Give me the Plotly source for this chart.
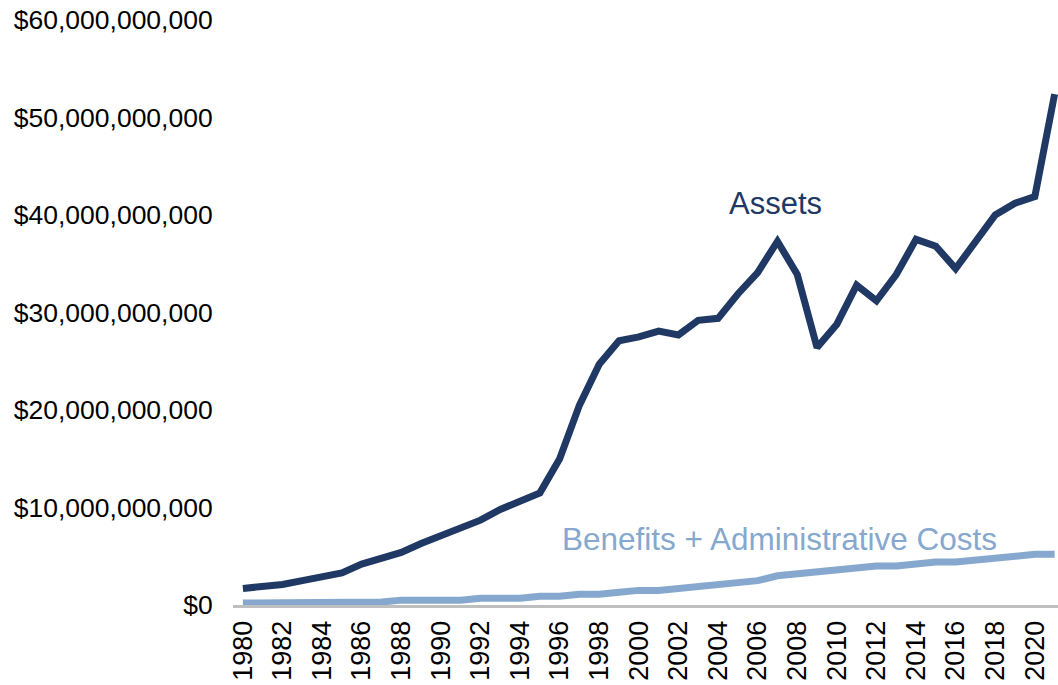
import plotly.graph_objects as go

# Fiscal years shown on the category axis
years = [1980, 1981, 1982, 1983, 1984, 1985, 1986, 1987, 1988, 1989,
         1990, 1991, 1992, 1993, 1994, 1995, 1996, 1997, 1998, 1999,
         2000, 2001, 2002, 2003, 2004, 2005, 2006, 2007, 2008, 2009,
         2010, 2011, 2012, 2013, 2014, 2015, 2016, 2017, 2018, 2019,
         2020, 2021]

# Fund assets, billions of dollars
assets_bn = [1.7, 1.9, 2.1, 2.5, 2.9, 3.3, 4.2, 4.8, 5.4, 6.3,
             7.1, 7.9, 8.7, 9.8, 10.6, 11.5, 15.0, 20.5, 24.7, 27.1,
             27.5, 28.1, 27.7, 29.2, 29.4, 31.9, 34.1, 37.3, 33.9, 26.4,
             28.8, 32.8, 31.2, 33.9, 37.5, 36.8, 34.5, 37.2, 40.0, 41.2,
             41.9, 52.4]

# Benefits paid plus administrative costs, billions of dollars
benefits_bn = [0.2, 0.2, 0.2, 0.2, 0.2, 0.2, 0.2, 0.3, 0.5, 0.5,
               0.5, 0.5, 0.7, 0.7, 0.7, 0.9, 0.9, 1.1, 1.1, 1.3,
               1.5, 1.5, 1.7, 1.9, 2.1, 2.3, 2.5, 3.0, 3.2, 3.4,
               3.6, 3.8, 4.0, 4.0, 4.2, 4.4, 4.4, 4.6, 4.8, 5.0,
               5.2, 5.2]

x_tick_years = years[::2]

ASSETS_COLOR = "#1F3864"
BENEFITS_COLOR = "#86A8CE"
FONT = "Liberation Sans, Arial, sans-serif"

assets = [v * 1e9 for v in assets_bn]
benefits = [v * 1e9 for v in benefits_bn]

fig = go.Figure()
fig.add_trace(go.Scatter(x=years, y=benefits, mode="lines",
                         line=dict(color=BENEFITS_COLOR, width=7),
                         name="Benefits + Administrative Costs"))
fig.add_trace(go.Scatter(x=years, y=assets, mode="lines",
                         line=dict(color=ASSETS_COLOR, width=7),
                         name="Assets"))

fig.add_annotation(x=2006.9, y=41.2e9, text="Assets", showarrow=False,
                   font=dict(family=FONT, size=31, color=ASSETS_COLOR))
fig.add_annotation(x=2007.1, y=6.8e9, text="Benefits + Administrative Costs",
                   showarrow=False,
                   font=dict(family=FONT, size=31.5, color=BENEFITS_COLOR))

fig.update_layout(
    width=1058, height=685,
    margin=dict(l=233, r=0, t=20, b=80),
    paper_bgcolor="white", plot_bgcolor="white",
    showlegend=False,
    font=dict(family=FONT, size=26, color="#000000"),
    xaxis=dict(range=[1979.5, 2021.17], tickmode="array",
               tickvals=x_tick_years, ticktext=[str(y) for y in x_tick_years],
               tickangle=-90, showgrid=False, zeroline=False,
               showline=True, linecolor="#BFBFBF", linewidth=3,
               layer="below traces", ticks="outside", ticklen=2,
               tickcolor="rgba(0,0,0,0)",
               tickfont=dict(family=FONT, size=27, color="#000000")),
    yaxis=dict(range=[0, 60e9], tickmode="array",
               tickvals=[0, 10e9, 20e9, 30e9, 40e9, 50e9, 60e9],
               tickformat="$,.0f", showgrid=False, zeroline=False,
               showline=False, ticks="outside", ticklen=14,
               tickcolor="rgba(0,0,0,0)",
               tickfont=dict(family=FONT, size=26.5, color="#000000")),
)

fig.write_html("out.html")
